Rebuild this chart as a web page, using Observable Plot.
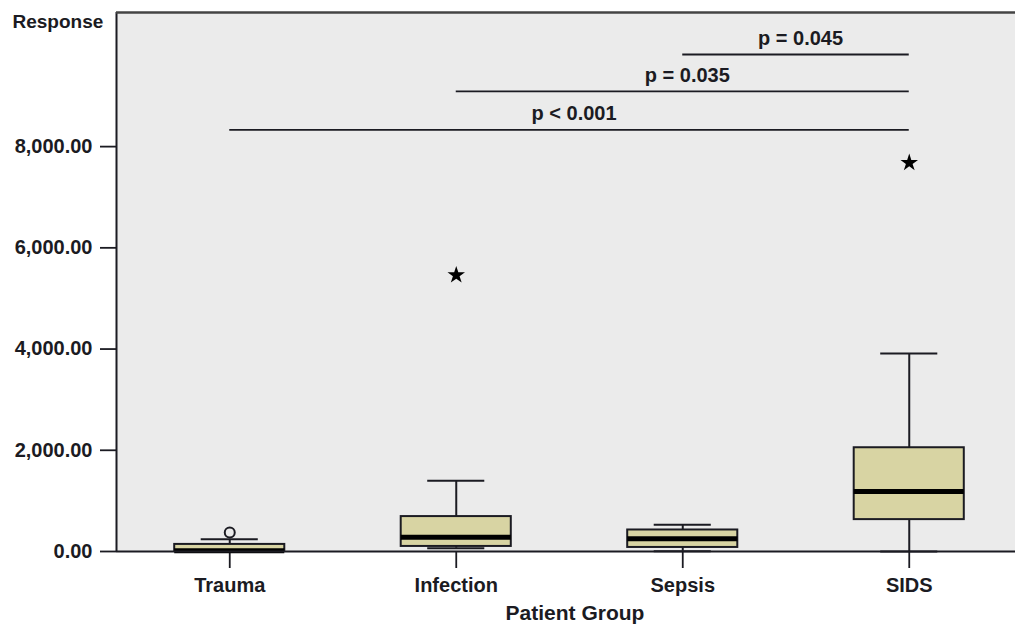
<!DOCTYPE html>
<html><head><meta charset="utf-8">
<script src="https://cdn.jsdelivr.net/npm/d3@7"></script>
<script src="https://cdn.jsdelivr.net/npm/@observablehq/plot@0.6"></script>
<style>
body{margin:0;background:#fff;}
#chart svg [aria-label="x-axis tick"], #chart svg [aria-label="y-axis tick"]{stroke-width:1.8px;}
</style></head><body><div id="chart"></div>
<script>
// ---- data ----
const groups = ["Trauma", "Infection", "Sepsis", "SIDS"];
const whiskerLow = [0, 65, 5, 0];
const q1 = [0, 100, 80, 630];
const median = [15, 280, 250, 1185];
const q3 = [140, 690, 425, 2050];
const whiskerHigh = [240, 1400, 527, 3910];
const outlierGroup = ["Trauma", "Infection", "SIDS"];
const outlierValue = [375, 5460, 7680];
const outlierKind = ["circle", "star", "star"];
const sigFrom = ["Trauma", "Infection", "Sepsis"];
const sigTo = ["SIDS", "SIDS", "SIDS"];
const sigY = [8330, 9090, 9820];
const sigLabel = ["p < 0.001", "p = 0.035", "p = 0.045"];
const yTicks = [0, 2000, 4000, 6000, 8000];

const idx = groups.map((g, i) => i);
const boxes = groups.map((g, i) => ({i, lo: whiskerLow[i], q1: q1[i], med: median[i], q3: q3[i], hi: whiskerHigh[i]}));
const outliers = outlierGroup.map((g, k) => ({i: groups.indexOf(g), v: outlierValue[k], kind: outlierKind[k]}));
const sig = sigFrom.map((g, k) => ({a: groups.indexOf(g), b: groups.indexOf(sigTo[k]), y: sigY[k], label: sigLabel[k]}));

const BOX = 0.243, CAP = 0.126;
const ink = "#1b1b22";

const plot = Plot.plot({
  width: 1015, height: 630,
  marginLeft: 116, marginRight: 0, marginTop: 12, marginBottom: 79,
  style: {fontFamily: "'Liberation Sans', Arial, sans-serif", fontSize: "20px", fontWeight: "bold", color: ink, background: "#fff"},
  x: {domain: [-0.5, 3.5], range: [116, 1022], ticks: idx, tickFormat: i => groups[i], tickSize: 17, tickPadding: 9, label: null},
  y: {domain: [0, 10650], ticks: yTicks, tickFormat: d3.format(",.2f"), tickSize: 16, tickPadding: 8, label: null},
  marks: [
    Plot.frame({fill: "#ebebeb", stroke: null}),
    // whiskers
    Plot.ruleX(boxes, {x: "i", y1: "q3", y2: "hi", stroke: ink, strokeWidth: 2}),
    Plot.ruleX(boxes, {x: "i", y1: "lo", y2: "q1", stroke: ink, strokeWidth: 2}),
    Plot.ruleY(boxes, {y: "hi", x1: d => d.i - CAP, x2: d => d.i + CAP, stroke: ink, strokeWidth: 2}),
    Plot.ruleY(boxes, {y: "lo", x1: d => d.i - CAP, x2: d => d.i + CAP, stroke: ink, strokeWidth: 2}),
    // boxes
    Plot.rect(boxes, {x1: d => d.i - BOX, x2: d => d.i + BOX, y1: "q1", y2: "q3", fill: "#d8d4a3", stroke: ink, strokeWidth: 2}),
    Plot.ruleY(boxes, {y: "med", x1: d => d.i - BOX, x2: d => d.i + BOX, stroke: "#000", strokeWidth: 5}),
    // outliers
    Plot.dot(outliers.filter(d => d.kind === "circle"), {x: "i", y: "v", r: 5, stroke: ink, strokeWidth: 2, fill: "none"}),
    Plot.dot(outliers.filter(d => d.kind === "star"), {x: "i", y: "v", r: 5.5, symbol: "star", fill: "#000", stroke: null}),
    // significance brackets
    Plot.ruleY(sig, {y: "y", x1: "a", x2: "b", stroke: ink, strokeWidth: 1.8}),
    Plot.text(sig, {x: d => (d.a + d.b) / 2 + 0.02, y: "y", text: "label", dy: -16, fill: ink}),
    // axis lines / borders
    Plot.ruleY([0], {stroke: ink, strokeWidth: 2}),
    Plot.ruleX([-0.5], {stroke: ink, strokeWidth: 2}),
    Plot.ruleY([10650], {stroke: "#444", strokeWidth: 2.5}),
    // titles
    Plot.text(["Response"], {frameAnchor: "top-left", dx: -104, dy: 2, textAnchor: "start", fontSize: 19, fill: ink}),
    Plot.text(["Patient Group"], {frameAnchor: "bottom", dx: 9, dy: 68, fontSize: 21, fill: ink})
  ]
});
document.getElementById("chart").append(plot);
</script>
</body></html>
